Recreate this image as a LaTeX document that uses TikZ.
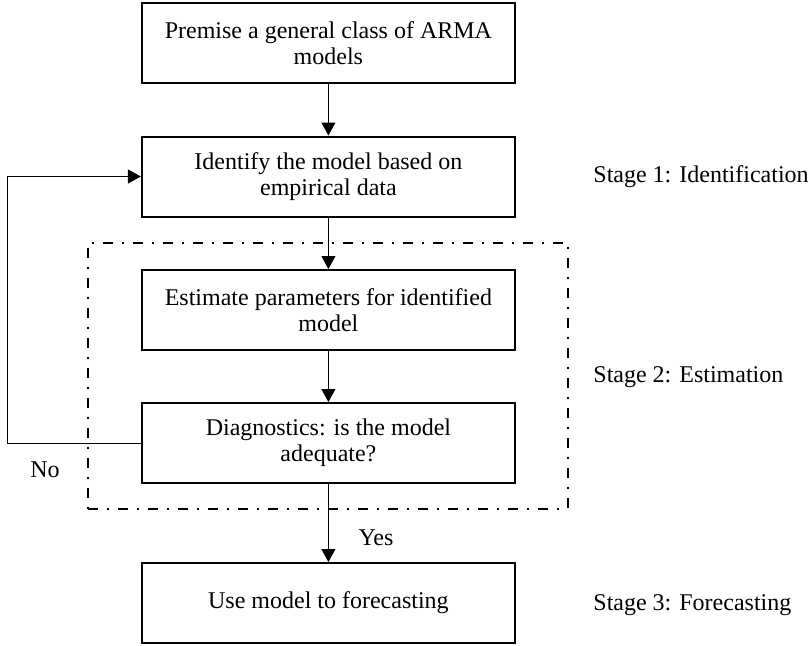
\documentclass[tikz,border=0pt]{standalone}
\usepackage{fontspec}
\setmainfont{Liberation Serif}
\usepackage{tikz}
\usetikzlibrary{arrows.meta,calc,positioning}

\begin{document}
\begin{tikzpicture}[x=1pt,y=1pt]
	\tikzstyle{every node} = [font = \fontsize{12}{13}\selectfont]
	\tikzstyle{box} = [rectangle, draw = black, line width = 1pt, minimum width = 186.5pt, minimum height = 40pt, align = center, inner sep = 0pt]
	\tikzstyle{frame} = [rectangle, draw = black, line width = 1pt, dash pattern = on 5pt off 4.5pt on 1pt off 4.5pt, minimum width = 239.6pt, minimum height = 133.2pt, inner sep = 0pt]
	\tikzstyle{stage} = [anchor = west, inner sep = 0pt]
	\tikzstyle{link} = [line width = 0.5pt, -{Triangle[length = 6.5pt, width = 7pt]}]
	\useasboundingbox (0, 0) rectangle (404, -322.5);

\node[frame] (group) at (164, -187.9) {};

\node[box] (0) at (164.2, -21.5) {Premise a general class of ARMA\\models};
\node[box] (1) at (164.2, -88.25) {Identify the model based on\\empirical data};
\node[box] (2) at (164.2, -155) {Estimate parameters for identified\\model};
\node[box] (3) at (164.2, -221.5) {Diagnostics: is the model\\adequate?};
\node[box] (4) at (164.2, -301.5) {Use model to forecasting};

\node[stage] (s1) at (296.5, -88.5) {Stage 1: Identification};
\node[stage] (s2) at (296.5, -188.5) {Stage 2: Estimation};
\node[stage] (s3) at (296.5, -302.5) {Stage 3: Forecasting};

\node (no) at (22.5, -235) {No};
\node (yes) at (188, -269) {Yes};

	\path[draw, link] (0) -- (1);
	\path[draw, link] (1) -- (2);
	\path[draw, link] (2) -- (3);
	\path[draw, link] (3) -- (4);
	\path[draw, link] (3.west) -- ++(-66.7, 0) |- (1.west);
	\end{tikzpicture}
\end{document}
